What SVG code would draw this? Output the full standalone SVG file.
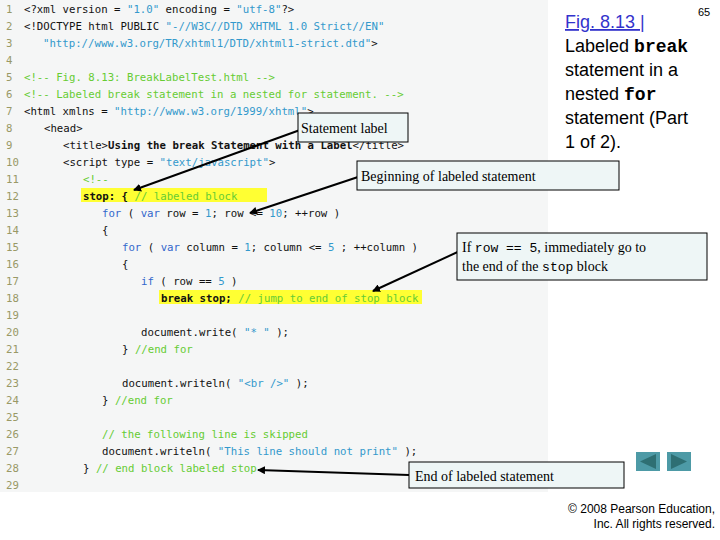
<svg xmlns="http://www.w3.org/2000/svg" width="720" height="540" viewBox="0 0 720 540">
<style>
.code{font-family:"DejaVu Sans Mono","Liberation Mono",monospace;font-size:10.7px;fill:#111;white-space:pre}
.ln{fill:#999966}
.kw{fill:#3366cc}
.st{fill:#3399cc}
.cm{fill:#66cc33}
.b{font-weight:bold}
.hl{fill:#ffff33}
.box{fill:#eef6f6;stroke:#000;stroke-width:1}
.lbl{font-family:"Liberation Serif",serif;font-size:14px;fill:#000}
.lblm{font-family:"Liberation Mono",monospace;font-size:13px}
.arr{stroke:#000;stroke-width:2;fill:none;marker-end:url(#ah)}
.ttl{font-family:"Liberation Sans",sans-serif;font-size:18px;fill:#000}
.ttlm{font-family:"Liberation Mono",monospace;font-weight:bold}
</style>
<defs><marker id="ah" markerWidth="8" markerHeight="8" refX="7" refY="4" orient="auto" markerUnits="userSpaceOnUse"><path d="M0,0 L8,4 L0,8 z" fill="#000"/></marker></defs>
<rect x="0" y="0" width="720" height="540" fill="#fff"/>
<rect x="0" y="0" width="548" height="492" fill="#f5f6f6"/>
<rect x="81" y="188" width="186" height="14" class="hl"/>
<rect x="159" y="290" width="263" height="14" class="hl"/>
<g id="code" class="code">
<text x="6" y="13"><tspan class="ln">1</tspan><tspan x="24">&lt;?xml version = </tspan><tspan class="st">"1.0"</tspan> encoding = <tspan class="st">"utf-8"</tspan>?&gt;</text>
<text x="6" y="30"><tspan class="ln">2</tspan><tspan x="24">&lt;!DOCTYPE html PUBLIC </tspan><tspan class="st">"-//W3C//DTD XHTML 1.0 Strict//EN"</tspan></text>
<text x="6" y="47"><tspan class="ln">3</tspan><tspan x="43" class="st">"http://www.w3.org/TR/xhtml1/DTD/xhtml1-strict.dtd"</tspan>&gt;</text>
<text x="6" y="64"><tspan class="ln">4</tspan></text>
<text x="6" y="81"><tspan class="ln">5</tspan><tspan x="24" class="cm">&lt;!-- Fig. 8.13: BreakLabelTest.html --&gt;</tspan></text>
<text x="6" y="98"><tspan class="ln">6</tspan><tspan x="24" class="cm">&lt;!-- Labeled break statement in a nested for statement. --&gt;</tspan></text>
<text x="6" y="115"><tspan class="ln">7</tspan><tspan x="24">&lt;html xmlns = </tspan><tspan class="st">"http://www.w3.org/1999/xhtml"</tspan>&gt;</text>
<text x="6" y="132"><tspan class="ln">8</tspan><tspan x="44">&lt;head&gt;</tspan></text>
<text x="6" y="149"><tspan class="ln">9</tspan><tspan x="63">&lt;title&gt;</tspan><tspan class="b">Using the break Statement with a Label</tspan>&lt;/title&gt;</text>
<text x="6" y="166"><tspan class="ln">10</tspan><tspan x="63">&lt;script type = </tspan><tspan class="st">"text/javascript"</tspan>&gt;</text>
<text x="6" y="183"><tspan class="ln">11</tspan><tspan x="83" class="cm">&lt;!--</tspan></text>
<text x="6" y="200"><tspan class="ln">12</tspan><tspan x="83" class="b">stop: { </tspan><tspan class="cm">// labeled block</tspan></text>
<text x="6" y="217"><tspan class="ln">13</tspan><tspan x="102" class="kw">for</tspan> ( <tspan class="kw">var</tspan> row = <tspan class="st">1</tspan>; row &lt;= <tspan class="st">10</tspan>; ++row )</text>
<text x="6" y="234"><tspan class="ln">14</tspan><tspan x="102">{</tspan></text>
<text x="6" y="251"><tspan class="ln">15</tspan><tspan x="122" class="kw">for</tspan> ( <tspan class="kw">var</tspan> column = <tspan class="st">1</tspan>; column &lt;= <tspan class="st">5</tspan> ; ++column )</text>
<text x="6" y="268"><tspan class="ln">16</tspan><tspan x="122">{</tspan></text>
<text x="6" y="285"><tspan class="ln">17</tspan><tspan x="141" class="kw">if</tspan> ( row == <tspan class="st">5</tspan> )</text>
<text x="6" y="302"><tspan class="ln">18</tspan><tspan x="161" class="b">break stop; </tspan><tspan class="cm">// jump to end of stop block</tspan></text>
<text x="6" y="319"><tspan class="ln">19</tspan></text>
<text x="6" y="336"><tspan class="ln">20</tspan><tspan x="141">document.write( </tspan><tspan class="st">"* "</tspan> );</text>
<text x="6" y="353"><tspan class="ln">21</tspan><tspan x="122">} </tspan><tspan class="cm">//end for</tspan></text>
<text x="6" y="370"><tspan class="ln">22</tspan></text>
<text x="6" y="387"><tspan class="ln">23</tspan><tspan x="122">document.writeln( </tspan><tspan class="st">"&lt;br /&gt;"</tspan> );</text>
<text x="6" y="404"><tspan class="ln">24</tspan><tspan x="102">} </tspan><tspan class="cm">//end for</tspan></text>
<text x="6" y="421"><tspan class="ln">25</tspan></text>
<text x="6" y="438"><tspan class="ln">26</tspan><tspan x="102" class="cm">// the following line is skipped</tspan></text>
<text x="6" y="455"><tspan class="ln">27</tspan><tspan x="102">document.writeln( </tspan><tspan class="st">"This line should not print"</tspan> );</text>
<text x="6" y="472"><tspan class="ln">28</tspan><tspan x="83">} </tspan><tspan class="cm">// end block labeled stop</tspan></text>
<text x="6" y="489"><tspan class="ln">29</tspan></text>
</g>
<g id="connectors">
<line class="arr" x1="300" y1="130" x2="134" y2="190"/>
<line class="arr" x1="358" y1="177" x2="250" y2="213"/>
<line class="arr" x1="462" y1="250" x2="373" y2="291"/>
<line class="arr" x1="409" y1="475" x2="258" y2="470"/>
</g>
<g id="n-statement-label"><rect class="box" x="298" y="113" width="110" height="29"/><text class="lbl" x="301" y="133">Statement label</text></g>
<g id="n-beginning"><rect class="box" x="357" y="161" width="262" height="29"/><text class="lbl" x="361" y="181">Beginning of labeled statement</text></g>
<g id="n-if-row"><rect class="box" x="457" y="233" width="250" height="47"/><text class="lbl" x="462" y="252">If <tspan class="lblm">row == 5</tspan>, immediately go to</text><text class="lbl" x="462" y="271">the end of the <tspan class="lblm">stop</tspan> block</text></g>
<g id="n-end"><rect class="box" x="409" y="462" width="215" height="26"/><text class="lbl" x="415" y="481">End of labeled statement</text></g>
<g id="title">
<text class="ttl" x="698" y="16" style="font-size:11px">65</text>
<text class="ttl" x="565" y="28" style="fill:#3333cc;text-decoration:underline">Fig. 8.13 | </text>
<text class="ttl" x="565" y="52">Labeled <tspan class="ttlm">break</tspan></text>
<text class="ttl" x="565" y="76">statement in a</text>
<text class="ttl" x="565" y="100">nested <tspan class="ttlm">for</tspan></text>
<text class="ttl" x="565" y="124">statement (Part</text>
<text class="ttl" x="565" y="148">1 of 2).</text>
</g>
<g id="nav">
<rect x="636" y="452" width="24" height="19" fill="#4d9aa6"/><path d="M640,461.5 L656,454 L656,469 z" fill="#2e6f73"/>
<rect x="667" y="452" width="24" height="19" fill="#4d9aa6"/><path d="M687,461.5 L671,454 L671,469 z" fill="#2e6f73"/>
</g>
<text x="715" y="513" text-anchor="end" style="font-family:'Liberation Sans',sans-serif;font-size:12px">© 2008 Pearson Education,</text>
<text x="715" y="528" text-anchor="end" style="font-family:'Liberation Sans',sans-serif;font-size:12px">Inc.  All rights reserved.</text>
</svg>
